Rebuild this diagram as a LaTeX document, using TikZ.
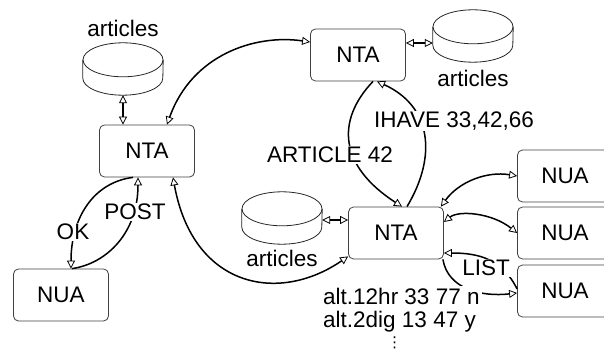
\documentclass[tikz,border=0pt]{standalone}
\usepackage{fontspec}
\setmainfont{Liberation Sans}
\newfontfamily\dejavu{DejaVu Sans}
\usepackage{tikz}
\usetikzlibrary{arrows.meta}
\tikzstyle{box} = [draw=black!75, line width=0.8pt, rounded corners=5pt, minimum width=95pt, minimum height=52pt]
\tikzstyle{disk} = [minimum width=80pt, minimum height=52pt, inner sep=0pt]
\tikzstyle{diskline} = [draw=black!85, line width=0.8pt]
\tikzstyle{link} = [line width=1.5pt, -{Triangle[open, length=8pt, width=8pt, line width=0.8pt]}]
\tikzstyle{duplex} = [link, {Triangle[open, length=8pt, width=8pt, line width=0.8pt]}-{Triangle[open, length=8pt, width=8pt, line width=0.8pt]}]
\tikzstyle{tag} = [fill=white, inner sep=1pt]

% storage drum: name, position, label
\newcommand{\disk}[3]{%
  \node[disk, label={#3}] (#1) at (#2) {};
  \draw[diskline] ([yshift=-17pt]#1.north) ellipse [x radius=40pt, y radius=17pt];
  \draw[diskline] ([yshift=-17pt]#1.north west) -- ([yshift=17pt]#1.south west)
    arc [start angle=180, end angle=360, x radius=40pt, y radius=17pt]
    -- ([yshift=-17pt]#1.north east);
}

\begin{document}
\begin{tikzpicture}[x=1pt, y=1pt, font=\fontsize{22.5}{23}\selectfont]
  \useasboundingbox (0,0) rectangle (604,-352);
  \clip (0,0) rectangle (604,-352);

  % transport agents and user agents
  \node[box](ntaL) at (147,-151){NTA};
  \node[box](nuaL) at (61,-295){NUA};
  \node[box](ntaT) at (358,-55){NTA};
  \node[box](ntaM) at (396,-233){NTA};
  \node[box](nuaA) at (565,-176){NUA};
  \node[box](nuaB) at (565,-233){NUA};
  \node[box](nuaC) at (565,-291){NUA};

  % article stores
  \disk{cylTL}{123,-69}{[label distance=3pt]above:articles}
  \disk{cylTR}{473,-36}{[label distance=4pt]below:articles}
  \disk{cylM}{282,-218}{[label distance=2pt]below:articles}

  \draw[duplex] (cylTL.south) -- (cylTL.south |- ntaL.north);
  \draw[duplex] ([yshift=-7pt]cylTR.west) -- ([yshift=-7pt]cylTR.west -| ntaT.east);
  \draw[duplex] ([yshift=-2pt]cylM.east) -- ([yshift=-2pt]cylM.east -| ntaM.west);

  % news feeds between servers
  \draw[duplex] ([xshift=20pt]ntaL.north) .. controls +(25,70) and +(-55,8) .. ([yshift=13pt]ntaT.west);
  \draw[duplex] ([xshift=26pt]ntaL.south) .. controls +(20,-110) and +(-70,-48) .. ([yshift=3pt]ntaM.south west);
  \draw[link] ([xshift=15pt]ntaT.south) .. controls +(-38,-40) and +(-62,40) .. ([xshift=6pt]ntaM.north);
  \draw[link] ([xshift=11pt]ntaM.north) .. controls +(30,50) and +(55,-25) .. ([xshift=19pt]ntaT.south);

  % posting
  \draw[link] ([xshift=-14pt]ntaL.south) .. controls +(-40,-5) and +(0,50) .. ([xshift=10pt]nuaL.north);
  \draw[link] ([xshift=11pt]nuaL.north) .. controls +(35,5) and +(0,-55) .. ([xshift=-9pt]ntaL.south);

  % readers
  \draw[duplex] ([xshift=-3pt]ntaM.north east) .. controls +(18,25) and +(-30,5) .. (nuaA.west);
  \draw[duplex] ([yshift=11pt]ntaM.east) .. controls +(15,12) and +(-25,20) .. (nuaB.west);
  \draw[link] ([yshift=2pt]nuaC.west) .. controls +(-15,30) and +(35,0) .. ([yshift=-20pt]ntaM.east);
  \draw[link] ([xshift=-1pt]ntaM.south east) .. controls +(5,-30) and +(-35,-4) .. ([yshift=-2pt]nuaC.west);

  % command labels
  \node[tag](ok) at (73,-232){OK};
  \node[tag](post) at (135,-212){POST};
  \node[tag](article) at (330,-155){ARTICLE 42};
  \node[tag](ihave) at (454,-121){IHAVE 33,42,66};
  \node[tag](list) at (486,-268){LIST};
  \node[tag, anchor=north west, inner sep=2pt, align=left](groups) at (321,-286)
    {alt.12hr 33 77 n\\alt.2dig 13 47 y\\[-3pt]\hspace*{64pt}{\dejavu\fontsize{15}{15}\selectfont ⋮}};
\end{tikzpicture}
\end{document}
